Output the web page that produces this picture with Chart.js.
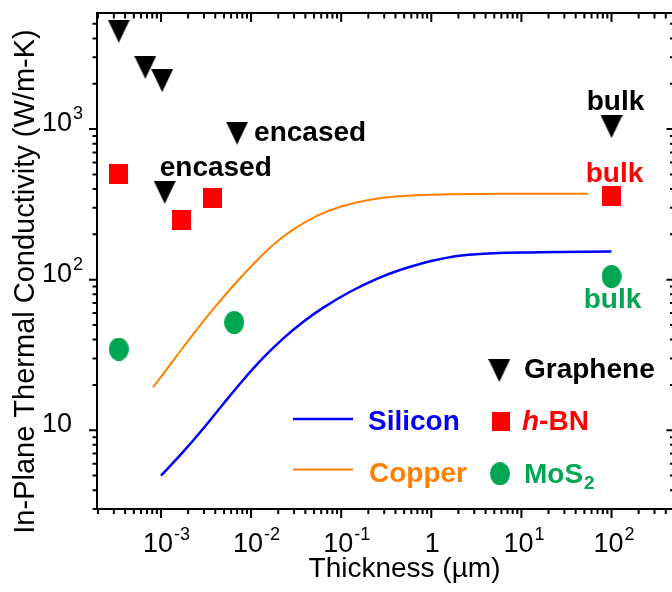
<!DOCTYPE html>
<html>
<head>
<meta charset="utf-8">
<script src="https://cdn.jsdelivr.net/npm/chart.js@4.4.1/dist/chart.umd.min.js"></script>
<style>
  html, body { margin: 0; padding: 0; background: #fff; overflow: hidden; }
  #wrap { width: 700px; height: 592px; }
</style>
</head>
<body>
<div id="wrap"><canvas id="c" width="700" height="592"></canvas></div>
<script>
// Thickness in µm, in-plane thermal conductivity in W/m-K
const grapheneThickness = [3.4e-4, 6.7e-4, 1.03e-3, 1.1e-3, 7.0e-3, 100];
const grapheneK         = [4470, 2570, 2100, 380, 940, 1040];
const grapheneNotes     = ['', '', '', 'encased', 'encased', 'bulk'];

const hbnThickness = [3.4e-4, 1.68e-3, 3.73e-3, 100];
const hbnK         = [500, 250, 350, 360];
const hbnNotes     = ['', '', '', 'bulk'];

const mos2Thickness = [3.4e-4, 6.5e-3, 100];
const mos2K         = [34.6, 52, 105];
const mos2Notes     = ['', '', 'bulk'];

const siliconThickness = [1.0e-3, 1.75e-3, 2.92e-3, 4.88e-3, 8.13e-3, 1.36e-2, 2.26e-2, 3.77e-2, 6.27e-2, 0.124, 0.245, 0.457, 1.12, 2.6, 15.8, 100];
const siliconK         = [4.99, 7.16, 10.2, 14.9, 21.5, 30.2, 40.6, 52.4, 65.0, 82.8, 100.9, 116.4, 135.2, 146.6, 152.2, 153.7];

const copperThickness = [8.15e-4, 1.36e-3, 2.26e-3, 3.78e-3, 6.3e-3, 1.05e-2, 1.75e-2, 2.92e-2, 5.3e-2, 9.6e-2, 0.202, 0.476, 1.12, 6.14, 55];
const copperK         = [19.3, 28.9, 43.2, 63.4, 90.8, 126.2, 169.8, 214.8, 264.3, 304, 338, 359, 367, 371.5, 371.5];

const xTicks = [1e-3, 1e-2, 1e-1, 1, 10, 100];
const xTickLabels = [['10', '-3'], ['10', '-2'], ['10', '-1'], ['1', ''], ['10', '1'], ['10', '2']];
const yTicks = [10, 100, 1000];
const yTickLabels = [['10', ''], ['10', '2'], ['10', '3']];

const BLACK = '#000000', RED = '#ff0000', GREEN = '#00a651', BLUE = '#0000ff', ORANGE = '#ff8000';
const FONT = '"Liberation Sans", Arial, sans-serif';

function pairs(xs, ys) { return xs.map((v, i) => ({ x: v, y: ys[i] })); }

// Filled marker sprites, centred on each point by Chart.js
function marker(shape, w, h, color) {
  const c = document.createElement('canvas');
  c.width = w; c.height = h;
  const g = c.getContext('2d');
  g.fillStyle = color;
  g.beginPath();
  if (shape === 'tri') { g.moveTo(0, 0); g.lineTo(w, 0); g.lineTo(w / 2, h); g.closePath(); }
  else if (shape === 'rect') { g.rect(0, 0, w, h); }
  else { g.ellipse(w / 2, h / 2, w / 2, h / 2, 0, 0, Math.PI * 2); }
  g.fill();
  return c;
}
const triMark = marker('tri', 22, 23, BLACK);
const sqMark = marker('rect', 19, 20, RED);
const dotMark = marker('dot', 20, 23, GREEN);

function drawSupText(ctx, base, sup, x, baseline, align, size, supSize) {
  ctx.font = size + 'px ' + FONT;
  const wb = ctx.measureText(base).width;
  const left = align === 'baseRight' ? x - wb : x - wb / 2;
  ctx.textAlign = 'left';
  ctx.textBaseline = 'alphabetic';
  ctx.fillText(base, left, baseline);
  if (sup) {
    ctx.font = supSize + 'px ' + FONT;
    ctx.fillText(sup, left + wb + 1, baseline - 12);
  }
}

const decorations = {
  id: 'decorations',
  afterDraw(chart) {
    const { ctx, chartArea: a, scales } = chart;
    const xs = scales.x, ys = scales.y;
    ctx.save();

    // frame
    ctx.strokeStyle = BLACK;
    ctx.lineWidth = 2;
    ctx.strokeRect(a.left, a.top, a.right - a.left, a.bottom - a.top);

    // log ticks: outward on left/bottom, inward on top/right
    function logTicks(min, max) {
      const out = [];
      for (let e = Math.floor(Math.log10(min)); e <= Math.ceil(Math.log10(max)); e++) {
        for (let m = 1; m <= 9; m++) {
          const v = m * Math.pow(10, e);
          if (v >= min * 0.999 && v <= max * 1.001) out.push({ v, major: m === 1 });
        }
      }
      return out;
    }
    ctx.beginPath();
    for (const t of logTicks(xs.min, xs.max)) {
      const px = xs.getPixelForValue(t.v);
      ctx.moveTo(px, a.bottom); ctx.lineTo(px, a.bottom + (t.major ? 9 : 5));
      ctx.moveTo(px, a.top); ctx.lineTo(px, a.top + (t.major ? 9 : 5.5));
    }
    for (const t of logTicks(ys.min, ys.max)) {
      const py = ys.getPixelForValue(t.v);
      ctx.moveTo(a.left, py); ctx.lineTo(a.left - (t.major ? 8 : 4.5), py);
      ctx.moveTo(a.right, py); ctx.lineTo(a.right - (t.major ? 8 : 4.5), py);
    }
    ctx.stroke();

    // tick labels
    ctx.fillStyle = BLACK;
    xTicks.forEach((v, i) => {
      const px = xs.getPixelForValue(v);
      const [b, s] = xTickLabels[i];
      drawSupText(ctx, b, s, s ? px - 3 : px + 1, 552, 'center', 27, 18);
    });
    yTicks.forEach((v, i) => {
      const py = ys.getPixelForValue(v);
      const [b, s] = yTickLabels[i];
      drawSupText(ctx, b, s, 72, py + 2, 'baseRight', 27, 18);
    });

    // axis titles
    ctx.font = '28px ' + FONT;
    ctx.textAlign = 'center';
    ctx.textBaseline = 'alphabetic';
    ctx.fillText('Thickness (\u00b5m)', 404.5, 577);
    ctx.save();
    ctx.translate(33.5, 281.5);
    ctx.rotate(-Math.PI / 2);
    ctx.font = '29px ' + FONT;
    ctx.fillText('In-Plane Thermal Conductivity (W/m-K)', 0, 0);
    ctx.restore();

    // point notes
    const bold = 'bold 28px ' + FONT;
    ctx.font = bold;
    const noteStyle = {
      graphene: [null, null, null, { dx: -5, dy: -16, align: 'left' }, { dx: 17, dy: 8, align: 'left' }, { dx: 4, dy: -17, align: 'center' }],
      hbn: [null, null, null, { dx: 3, dy: -14, align: 'center' }],
      mos2: [null, null, { dx: 1, dy: 32, align: 'center' }]
    };
    const groups = [
      ['graphene', grapheneThickness, grapheneK, grapheneNotes, BLACK],
      ['hbn', hbnThickness, hbnK, hbnNotes, RED],
      ['mos2', mos2Thickness, mos2K, mos2Notes, GREEN]
    ];
    for (const [key, tx, ty, notes, color] of groups) {
      notes.forEach((txt, i) => {
        if (!txt) return;
        const st = noteStyle[key][i];
        ctx.fillStyle = color;
        ctx.textAlign = st.align;
        ctx.fillText(txt, xs.getPixelForValue(tx[i]) + st.dx, ys.getPixelForValue(ty[i]) + st.dy);
      });
    }

    // legend
    ctx.textAlign = 'left';
    ctx.drawImage(triMark, 499.3 - triMark.width / 2, 370.5 - triMark.height / 2);
    ctx.drawImage(sqMark, 500.7 - 9, 421 - 9.5, 18, 19);
    ctx.drawImage(dotMark, 500 - dotMark.width / 2, 473.7 - dotMark.height / 2);
    ctx.lineWidth = 2.5; ctx.strokeStyle = BLUE;
    ctx.beginPath(); ctx.moveTo(293, 419); ctx.lineTo(353, 419); ctx.stroke();
    ctx.lineWidth = 2; ctx.strokeStyle = ORANGE;
    ctx.beginPath(); ctx.moveTo(293, 469.5); ctx.lineTo(353, 469.5); ctx.stroke();

    ctx.font = bold;
    ctx.fillStyle = BLACK; ctx.fillText('Graphene', 524, 378);
    ctx.fillStyle = BLUE; ctx.fillText('Silicon', 368, 430);
    ctx.fillStyle = ORANGE; ctx.fillText('Copper', 369, 482);
    ctx.fillStyle = RED;
    ctx.font = 'italic bold 28px ' + FONT;
    ctx.fillText('h', 522, 430);
    const wh = ctx.measureText('h').width;
    ctx.font = bold;
    ctx.fillText('-BN', 522 + wh, 430);
    ctx.fillStyle = GREEN;
    ctx.fillText('MoS', 524, 483);
    const wm = ctx.measureText('MoS').width;
    ctx.font = 'bold 19px ' + FONT;
    ctx.fillText('2', 524 + wm + 1, 489);

    ctx.restore();
  }
};

new Chart(document.getElementById('c'), {
  type: 'scatter',
  data: {
    datasets: [
      { label: 'Silicon', data: pairs(siliconThickness, siliconK), showLine: true, borderColor: BLUE, borderWidth: 2.5, pointRadius: 0, tension: 0.4, fill: false },
      { label: 'Copper', data: pairs(copperThickness, copperK), showLine: true, borderColor: ORANGE, borderWidth: 2, pointRadius: 0, tension: 0.4, fill: false },
      { label: 'Graphene', data: pairs(grapheneThickness, grapheneK), pointStyle: triMark, pointRadius: 12 },
      { label: 'h-BN', data: pairs(hbnThickness, hbnK), pointStyle: sqMark, pointRadius: 10 },
      { label: 'MoS2', data: pairs(mos2Thickness, mos2K), pointStyle: dotMark, pointRadius: 11 }
    ]
  },
  options: {
    responsive: false,
    animation: false,
    devicePixelRatio: 1,
    layout: { padding: { left: 97, top: 9, right: 25.5, bottom: 83 } },
    plugins: { legend: { display: false }, tooltip: { enabled: false } },
    scales: {
      x: { type: 'logarithmic', min: 1.95e-4, max: 500, display: false },
      y: { type: 'logarithmic', min: 3, max: 5900, display: false }
    }
  },
  plugins: [decorations]
});
</script>
</body>
</html>
